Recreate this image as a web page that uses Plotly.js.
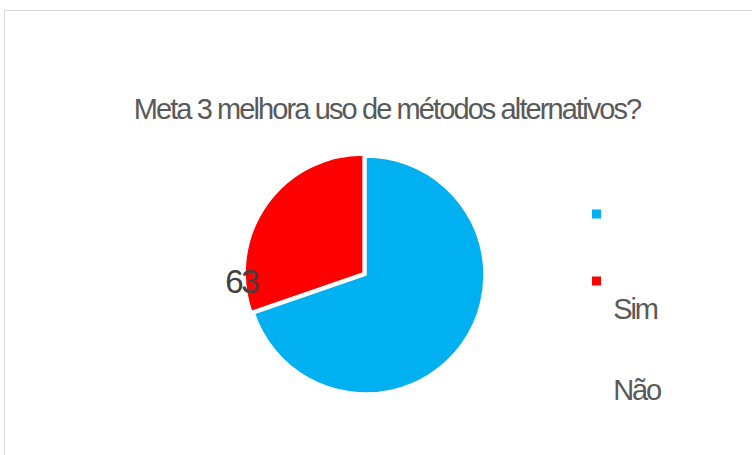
<!DOCTYPE html>
<html>
<head>
<meta charset="utf-8">
<script src="https://cdn.plot.ly/plotly-3.0.1.min.js"></script>
<style>
  html, body { margin: 0; padding: 0; background: #ffffff; overflow: hidden; }
  #frame { position: absolute; left: 4px; top: 10px; width: 800px; height: 500px;
           border-left: 1px solid #d9d9d9; border-top: 1px solid #d9d9d9; }
  #chart { position: absolute; left: 0; top: 0; width: 752px; height: 455px; }
  #chart .gtitle { letter-spacing: -1.9px; }
  #chart .annotation-text { letter-spacing: -2.2px; }
</style>
</head>
<body>
<div id="frame"></div>
<div id="chart"></div>
<script>
// ---- data ----
const categories = ["Sim", "Não"];
const values = [145, 63];
const colors = ["#00B0F0", "#FF0000"];
const titleText = "Meta 3 melhora uso de métodos alternativos?";

// ---- layout helpers (pixel -> paper) ----
const W = 752, H = 455;
const px = x => x / W;
const py = y => 1 - y / H;

const cx = 366, cy = 275, R = 118, pullR = 0.03;
const half = R * (1 + pullR);
const FONT = "Liberation Sans, Arial, sans-serif";

const trace = {
  type: "pie",
  labels: categories,
  values: values,
  sort: false,
  direction: "clockwise",
  rotation: 0,
  pull: [0, pullR],
  marker: { colors: colors, line: { color: "#ffffff", width: 1.5 } },
  textinfo: "none",
  hoverinfo: "label+value",
  showlegend: false,
  domain: { x: [px(cx - half), px(cx + half)], y: [py(cy + half), py(cy - half)] }
};

const shapes = [];
const annotations = [];
const sqY = [214, 281];
const txtY = [309, 390];
categories.forEach((c, i) => {
  shapes.push({
    type: "rect", xref: "paper", yref: "paper",
    x0: px(592), x1: px(601), y0: py(sqY[i] + 4.5), y1: py(sqY[i] - 4.5),
    fillcolor: colors[i], line: { width: 0 }
  });
  annotations.push({
    xref: "paper", yref: "paper", x: px(608), y: py(txtY[i]),
    xanchor: "left", yanchor: "middle", showarrow: false, text: c,
    font: { family: FONT, size: 29, color: "#595959" }
  });
});
annotations.push({
  xref: "paper", yref: "paper", x: px(241), y: py(281),
  xanchor: "center", yanchor: "middle", showarrow: false, text: String(values[1]),
  font: { family: FONT, size: 33, color: "#404040" }
});

const layout = {
  width: W, height: H,
  margin: { l: 0, r: 0, t: 0, b: 0 },
  paper_bgcolor: "rgba(0,0,0,0)",
  plot_bgcolor: "rgba(0,0,0,0)",
  title: {
    text: titleText, x: px(387), xanchor: "center", y: py(109), yanchor: "middle",
    font: { family: FONT, size: 29, color: "#595959" }
  },
  showlegend: false,
  shapes: shapes,
  annotations: annotations
};

Plotly.newPlot("chart", [trace], layout, { displayModeBar: false, staticPlot: true });
</script>
</body>
</html>
